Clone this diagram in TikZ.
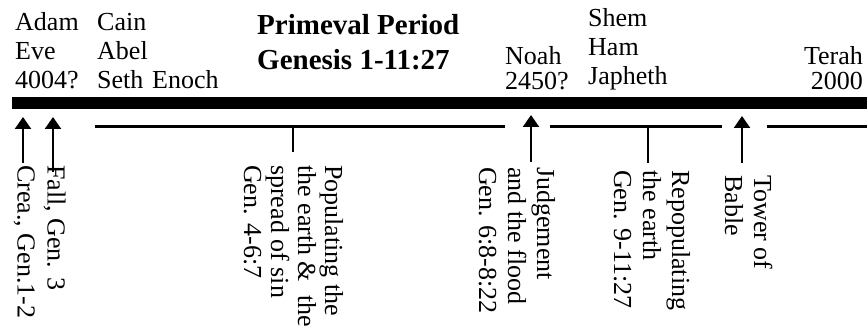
\documentclass[tikz,border=0pt]{standalone}
\usepackage{fontspec}
\setmainfont{Liberation Serif}
\usetikzlibrary{arrows.meta}
\begin{document}
\begin{tikzpicture}[x=1pt,y=-1pt,
  lbl/.style={inner sep=0pt, anchor=base west, align=left, font=\fontsize{26}{29}\selectfont},
  vlbl/.style={lbl, rotate=-90},
  rulel/.style={line width=2.5pt},
  uparrow/.style={line width=2.2pt, -{Triangle[width=16pt,length=12pt]}}]
\useasboundingbox (0,0) rectangle (867,328);
% timeline bar
\fill (12,97) rectangle (867,109);
% top labels (anchored at the baseline of the last line)
\node[lbl] (adam) at (15,89) {Adam\\Eve\\4004?};
\node[lbl] (cain) at (97,89) {Cain\\Abel\\Seth};
\node[lbl] (enoch) at (152,89) {Enoch};
\node[lbl, font=\bfseries\fontsize{29}{35}\selectfont] (title) at (257,70) {Primeval Period\\Genesis 1-11:27};
\node[lbl, font=\fontsize{26}{25}\selectfont] (noah) at (505,90) {Noah\\2450?};
\node[lbl] (shem) at (588,85) {Shem\\Ham\\Japheth};
\node[lbl, anchor=base east, align=right, font=\fontsize{26}{25}\selectfont] (terah) at (863,90) {Terah\\2000};
% vertical labels (anchored at the baseline of the last line)
\node[vlbl] (crea) at (17.5,165) {Crea., Gen.1-2};
\node[vlbl] (fall) at (47.5,165) {Fall, Gen. 3};
\node[vlbl, font=\fontsize{26}{27}\selectfont] (pop) at (244,165) {Populating the\\the earth \&~ the\\spread of sin\\Gen. 4-6:7};
\node[vlbl] (judg) at (479,167) {Judgement\\and the flood\\Gen. 6:8-8:22};
\node[vlbl] (repop) at (614,170) {Repopulating\\the earth\\Gen. 9-11:27};
\node[vlbl] (tower) at (725,175) {Tower of\\Bable};
% coordinates
\coordinate (a1s) at (23,163);   \coordinate (a1t) at (23,117);
\coordinate (a2s) at (53,172);   \coordinate (a2t) at (53,117);
\coordinate (a3s) at (531,162);  \coordinate (a3t) at (531,115);
\coordinate (a4s) at (742,163);  \coordinate (a4t) at (742,116);
\coordinate (h1a) at (95,126.5); \coordinate (h1b) at (505,126.5);
\coordinate (h2a) at (550,126.5);\coordinate (h2b) at (722,126.5);
\coordinate (h3a) at (767,126.5);\coordinate (h3b) at (867,126.5);
\coordinate (k1a) at (293,126.5);\coordinate (k1b) at (293,152);
\coordinate (k2a) at (648,126.5);\coordinate (k2b) at (648,163);
% connectors
\draw[uparrow] (a1s) -- (a1t);
\draw[uparrow] (a2s) -- (a2t);
\draw[uparrow] (a3s) -- (a3t);
\draw[uparrow] (a4s) -- (a4t);
\draw[rulel] (h1a) -- (h1b);
\draw[rulel] (h2a) -- (h2b);
\draw[rulel] (h3a) -- (h3b);
\draw[rulel] (k1a) -- (k1b);
\draw[rulel] (k2a) -- (k2b);
\end{tikzpicture}
\end{document}
